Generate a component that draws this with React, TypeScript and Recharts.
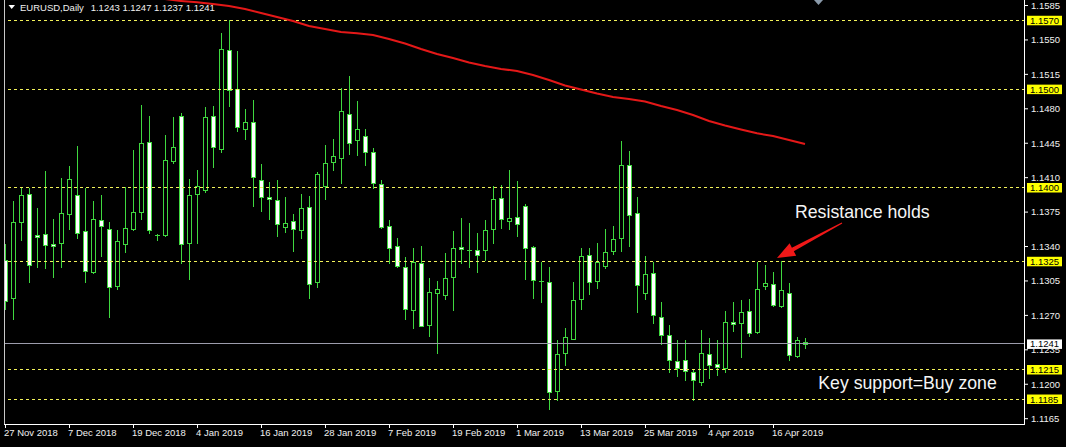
import React from 'react';
import { ComposedChart, Bar, Line, XAxis, YAxis, ReferenceLine } from 'recharts';

// EURUSD daily, 27 Nov 2018 .. 18 Apr 2019
const opens = [
  1.1326, 1.1288, 1.1365, 1.1393, 1.1352, 1.1353, 1.1343, 1.1344, 1.1373, 1.1392,
  1.1356, 1.1314, 1.1367, 1.1358, 1.1300, 1.1343, 1.1358, 1.1375, 1.1446, 1.1352,
  1.1352, 1.1427, 1.1473, 1.1344, 1.1393, 1.1397, 1.1473, 1.1439, 1.1540, 1.1500,
  1.1459, 1.1467, 1.1408, 1.1390, 1.1387, 1.1360, 1.1366, 1.1357, 1.1380, 1.1304,
  1.1402, 1.1426, 1.1430, 1.1475, 1.1448, 1.1452, 1.1436, 1.1404, 1.1361, 1.1341,
  1.1319, 1.1275, 1.1323, 1.1260, 1.1293, 1.1291, 1.1309, 1.1340, 1.1336, 1.1336,
  1.1336, 1.1358, 1.1389, 1.1366, 1.1370, 1.1381, 1.1340, 1.1305, 1.1304, 1.1193,
  1.1232, 1.1246, 1.1287, 1.1331, 1.1305, 1.1320, 1.1335, 1.1349, 1.1423, 1.1374,
  1.1293, 1.1313, 1.1268, 1.1250, 1.1224, 1.1225, 1.1212, 1.1202, 1.1231, 1.1221,
  1.1217, 1.1263, 1.1262, 1.1274, 1.1253, 1.1300, 1.1302, 1.1280, 1.1293, 1.1229,
  1.1243,
];
const highs = [
  1.1343, 1.1386, 1.1401, 1.1400, 1.1379, 1.1417, 1.1368, 1.1410, 1.1422, 1.1442,
  1.1400, 1.1386, 1.1392, 1.1365, 1.1357, 1.1401, 1.1438, 1.1484, 1.1473, 1.1353,
  1.1453, 1.1472, 1.1476, 1.1409, 1.1418, 1.1482, 1.1483, 1.1557, 1.1570, 1.1539,
  1.1480, 1.1489, 1.1424, 1.1406, 1.1408, 1.1390, 1.1373, 1.1393, 1.1391, 1.1416,
  1.1443, 1.1449, 1.1501, 1.1513, 1.1488, 1.1459, 1.1440, 1.1408, 1.1367, 1.1349,
  1.1329, 1.1339, 1.1341, 1.1308, 1.1305, 1.1333, 1.1356, 1.1369, 1.1364, 1.1354,
  1.1367, 1.1402, 1.1403, 1.1418, 1.1407, 1.1383, 1.1341, 1.1324, 1.1319, 1.1245,
  1.1257, 1.1304, 1.1338, 1.1338, 1.1344, 1.1358, 1.1361, 1.1447, 1.1437, 1.1390,
  1.1330, 1.1324, 1.1284, 1.1260, 1.1245, 1.1245, 1.1216, 1.1255, 1.1247, 1.1245,
  1.1274, 1.1284, 1.1286, 1.1287, 1.1324, 1.1321, 1.1314, 1.1325, 1.1303, 1.1248,
  1.1247,
];
const lows = [
  1.1277, 1.1266, 1.1347, 1.1304, 1.1319, 1.1318, 1.1309, 1.1319, 1.1358, 1.1349,
  1.1304, 1.1313, 1.1330, 1.1268, 1.1297, 1.1334, 1.1357, 1.1368, 1.1354, 1.1347,
  1.1351, 1.1425, 1.1323, 1.1307, 1.1344, 1.1395, 1.1421, 1.1436, 1.1483, 1.1457,
  1.1449, 1.1381, 1.1376, 1.1368, 1.1351, 1.1355, 1.1335, 1.1349, 1.1288, 1.1299,
  1.1388, 1.1418, 1.1405, 1.1434, 1.1433, 1.1423, 1.1400, 1.1359, 1.1323, 1.1319,
  1.1266, 1.1257, 1.1259, 1.1249, 1.1232, 1.1287, 1.1275, 1.1323, 1.1319, 1.1314,
  1.1326, 1.1344, 1.1359, 1.1358, 1.1351, 1.1307, 1.1288, 1.1284, 1.1175, 1.1184,
  1.1220, 1.1246, 1.1277, 1.1292, 1.1298, 1.1318, 1.1332, 1.1335, 1.1341, 1.1273,
  1.1287, 1.1262, 1.1241, 1.1212, 1.1208, 1.1204, 1.1184, 1.1199, 1.1206, 1.1209,
  1.1212, 1.1254, 1.1228, 1.1249, 1.1252, 1.1297, 1.1280, 1.1279, 1.1225, 1.1228,
  1.1237,
];
const closes = [
  1.1285, 1.1365, 1.1392, 1.1321, 1.1350, 1.1342, 1.1341, 1.1374, 1.1409, 1.1354,
  1.1315, 1.1368, 1.1361, 1.1299, 1.1346, 1.1359, 1.1375, 1.1445, 1.1357, 1.1352,
  1.1428, 1.1441, 1.1343, 1.1392, 1.1402, 1.1472, 1.1441, 1.1541, 1.1499, 1.1462,
  1.1467, 1.1411, 1.1390, 1.1388, 1.1363, 1.1364, 1.1358, 1.1379, 1.1302, 1.1414,
  1.1425, 1.1432, 1.1478, 1.1445, 1.1459, 1.1436, 1.1405, 1.1360, 1.1339, 1.1320,
  1.1276, 1.1324, 1.1259, 1.1294, 1.1297, 1.1308, 1.1339, 1.1337, 1.1336, 1.1331,
  1.1357, 1.1388, 1.1368, 1.1369, 1.1363, 1.1339, 1.1306, 1.1305, 1.1192, 1.1231,
  1.1248, 1.1286, 1.1330, 1.1304, 1.1324, 1.1334, 1.1348, 1.1423, 1.1372, 1.1301,
  1.1312, 1.1270, 1.1250, 1.1225, 1.1217, 1.1213, 1.1204, 1.1232, 1.1220, 1.1218,
  1.1263, 1.1261, 1.1273, 1.1252, 1.1297, 1.1303, 1.1281, 1.1296, 1.1230, 1.1245,
  1.1241,
];

// red moving average, read at every second bar
const maBars = [
  20, 22, 24, 26, 28, 30, 32, 34, 36, 38, 40, 42, 44, 46, 48, 50, 52, 54, 56, 58,
  60, 62, 64, 66, 68, 70, 72, 74, 76, 78, 80, 82, 84, 86, 88, 90, 92, 94, 96, 98, 100,
];
const maValues = [
  1.15915, 1.15896, 1.15882, 1.15866, 1.15845, 1.15815, 1.15774, 1.15734, 1.15693, 1.15642,
  1.15612, 1.15581, 1.15568, 1.1555, 1.1551, 1.15464, 1.15408, 1.15357, 1.15317, 1.15271,
  1.15235, 1.15205, 1.15184, 1.15144, 1.15093, 1.15037, 1.14996, 1.14955, 1.1492, 1.149,
  1.14874, 1.14828, 1.14788, 1.14737, 1.14676, 1.1463, 1.14589, 1.14551, 1.14523, 1.14483,
  1.14442,
];

const dateTicks = [0, 8, 16, 24, 32, 40, 48, 56, 64, 72, 80, 88, 96];
const dateLabels = [
  '27 Nov 2018', '7 Dec 2018', '19 Dec 2018', '4 Jan 2019', '16 Jan 2019', '28 Jan 2019',
  '7 Feb 2019', '19 Feb 2019', '1 Mar 2019', '13 Mar 2019', '25 Mar 2019', '4 Apr 2019',
  '16 Apr 2019',
];
const priceTicks = [
  1.1585, 1.155, 1.1515, 1.148, 1.1445, 1.141, 1.1375, 1.134, 1.1305, 1.127, 1.1235, 1.12, 1.1165,
];
const levels = [1.157, 1.15, 1.14, 1.1325, 1.1215, 1.1185];
const lastPrice = 1.1241;

const SLOTS = 128; // chart is shifted, empty bars to the right
const W = 1066;
const H = 447;
const PLOT_BOTTOM = 424;
const GREEN = '#3fd83f';
const FONT = '"Liberation Sans", Arial, sans-serif';

const data = Array.from({ length: SLOTS }, (_, i) => {
  const row: any = { i };
  if (i < opens.length) {
    row.o = opens[i];
    row.h = highs[i];
    row.l = lows[i];
    row.c = closes[i];
    row.range = [lows[i], highs[i]];
  }
  const k = maBars.indexOf(i);
  row.ma = k >= 0 ? maValues[k] : null;
  return row;
});

const Candle = (props: any) => {
  const { x, y, width, height, payload } = props;
  if (!payload || payload.o == null) return null;
  const { o, h, l, c } = payload;
  const top = Math.min(y, y + height);
  const bot = Math.max(y, y + height);
  const k = h > l ? (bot - top) / (h - l) : 0;
  const py = (v: number) => Math.round(top + (h - v) * k);
  const cx = Math.round(x + width / 2) + 0.5;
  const yo = py(o);
  const yc = py(c);
  const bTop = Math.min(yo, yc);
  const bBot = Math.max(yo, yc);
  return (
    <g>
      <line x1={cx} x2={cx} y1={Math.round(top)} y2={Math.round(bot) + 1} stroke={GREEN} />
      {bBot - bTop < 1 ? (
        <line x1={cx - 2.5} x2={cx + 2.5} y1={bTop + 0.5} y2={bTop + 0.5} stroke={GREEN} />
      ) : (
        <rect
          x={cx - 2}
          y={bTop + 0.5}
          width={4}
          height={bBot - bTop}
          fill={c < o ? '#ffffff' : '#000000'}
          stroke={GREEN}
        />
      )}
    </g>
  );
};

const DateTick = ({ x, payload }: any) => {
  const k = dateTicks.indexOf(payload.value);
  if (k < 0) return null;
  const col = Math.round(x) + 0.5;
  return (
    <g>
      <line x1={col} x2={col} y1={PLOT_BOTTOM} y2={PLOT_BOTTOM + 4} stroke="#ffffff" />
      <text x={x - 1} y={PLOT_BOTTOM + 12} fill="#f0f0f0" fontSize={9.5} fontFamily={FONT}>
        {dateLabels[k]}
      </text>
    </g>
  );
};

const PriceTag = ({ viewBox, value, bg }: any) => {
  const left = viewBox.x + viewBox.width + 2;
  return (
    <g>
      <rect x={left} y={viewBox.y - 4.5} width={35} height={9.5} fill={bg} />
      <text x={left + 3} y={viewBox.y + 3.5} fill="#000000" fontSize={9.5} fontFamily={FONT}>
        {value.toFixed(4)}
      </text>
    </g>
  );
};

export default function App() {
  const last = opens.length - 1;
  const header = [opens[last], highs[last], lows[last], closes[last]].map((v) => v.toFixed(4)).join(' ');
  return (
    <div style={{ position: 'fixed', left: 0, top: 0, width: W, height: H, background: '#000', overflow: 'hidden' }}>
      <ComposedChart width={W} height={H} data={data} margin={{ top: 0, right: 0, bottom: 0, left: 1 }}>
        <XAxis
          dataKey="i"
          type="category"
          height={H - PLOT_BOTTOM}
          ticks={dateTicks}
          interval={0}
          axisLine={false}
          tickLine={false}
          tick={<DateTick />}
        />
        <YAxis
          orientation="right"
          type="number"
          width={41}
          domain={[1.11596, 1.15906]}
          allowDataOverflow
          ticks={priceTicks}
          interval={0}
          axisLine={false}
          tickLine={{ stroke: '#ffffff' }}
          tickSize={3}
          tickMargin={3}
          tickFormatter={(v: number) => v.toFixed(4)}
          tick={{ fill: '#f0f0f0', fontSize: 9.5, fontFamily: FONT }}
        />
        {levels.map((lv) => (
          <ReferenceLine
            key={lv}
            y={lv}
            stroke="#f2f25a"
            strokeDasharray="3 3"
            shapeRendering="crispEdges"
            label={<PriceTag value={lv} bg="#ffff00" />}
          />
        ))}
        <ReferenceLine
          y={lastPrice}
          stroke="#9c9cac"
          shapeRendering="crispEdges"
          label={<PriceTag value={lastPrice} bg="#ffffff" />}
        />
        <Bar dataKey="range" shape={<Candle />} isAnimationActive={false} />
        <Line
          dataKey="ma"
          stroke="#e41818"
          strokeWidth={2}
          dot={false}
          activeDot={false}
          connectNulls
          isAnimationActive={false}
        />
      </ComposedChart>
      <svg width={W} height={H} style={{ position: 'absolute', left: 0, top: 0, pointerEvents: 'none' }}>
        <rect x={0} y={0} width={4} height={PLOT_BOTTOM + 1} fill="#000" />
        <line x1={4.5} x2={4.5} y1={0} y2={PLOT_BOTTOM + 1} stroke="#c8c8c8" />
        <line x1={1024.5} x2={1024.5} y1={0} y2={PLOT_BOTTOM + 1} stroke="#ffffff" />
        <line x1={4} x2={1025} y1={PLOT_BOTTOM + 0.5} y2={PLOT_BOTTOM + 0.5} stroke="#ffffff" />
        <polygon points="8.5,5 15,5 11.7,9" fill="#ffffff" />
        <text x={20} y={11} fill="#f0f0f0" fontSize={9.5} fontFamily={FONT}>EURUSD,Daily</text>
        <text x={90.7} y={11} fill="#f0f0f0" fontSize={9.5} fontFamily={FONT}>{header}</text>
        <polygon points="814,0 823,0 818.5,5" fill="#8a9aaa" />
        <text x={795} y={217.5} fill="#f5f5f5" fontSize={17.7} fontFamily={FONT}>Resistance holds</text>
        <text x={818.3} y={389} fill="#f5f5f5" fontSize={17.7} fontFamily={FONT}>Key support=Buy zone</text>
        <polygon
          points="777,258 796.2,255.7 793.8,251.3 842.3,223.6 841.7,222.4 791.9,247.7 789.6,243.3"
          fill="#f01818"
        />
      </svg>
    </div>
  );
}
